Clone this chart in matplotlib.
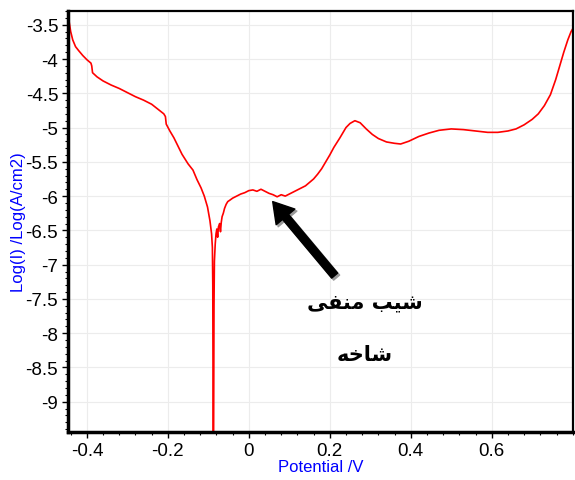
import matplotlib
matplotlib.use("Agg")
import matplotlib.pyplot as plt
from matplotlib.ticker import MultipleLocator
from matplotlib.transforms import offset_copy

# polarisation curve
potential = [-0.447, -0.444, -0.440, -0.435, -0.428, -0.420, -0.410, -0.400, -0.390, -0.388,
             -0.386, -0.375, -0.360, -0.340, -0.320, -0.300, -0.280, -0.260, -0.240, -0.225,
             -0.210, -0.206, -0.204, -0.195, -0.185, -0.175, -0.165, -0.150, -0.138, -0.128,
             -0.118, -0.110, -0.102, -0.096, -0.092, -0.090, -0.089, -0.088, -0.087, -0.086,
             -0.085, -0.083, -0.081, -0.079, -0.077, -0.075, -0.072, -0.070, -0.068, -0.066,
             -0.063, -0.060, -0.056, -0.052, -0.047, -0.040, -0.030, -0.020, -0.010, 0.000,
             0.010, 0.020, 0.030, 0.040, 0.050, 0.060, 0.070, 0.080, 0.090, 0.100,
             0.110, 0.120, 0.130, 0.140, 0.150, 0.160, 0.170, 0.180, 0.190, 0.200,
             0.210, 0.225, 0.240, 0.250, 0.262, 0.275, 0.290, 0.305, 0.320, 0.340,
             0.360, 0.375, 0.395, 0.420, 0.445, 0.470, 0.500, 0.530, 0.560, 0.590,
             0.615, 0.640, 0.660, 0.680, 0.700, 0.715, 0.730, 0.745, 0.758, 0.768,
             0.778, 0.788, 0.796, 0.800]
log_i = [-3.33, -3.45, -3.60, -3.72, -3.82, -3.88, -3.95, -4.01, -4.06, -4.10,
         -4.20, -4.26, -4.32, -4.38, -4.43, -4.49, -4.55, -4.60, -4.66, -4.73,
         -4.80, -4.84, -4.95, -5.05, -5.15, -5.27, -5.39, -5.53, -5.62, -5.76,
         -5.88, -6.00, -6.16, -6.36, -6.55, -6.75, -7.30, -9.60, -9.60, -7.60,
         -6.95, -6.70, -6.55, -6.48, -6.60, -6.45, -6.40, -6.52, -6.38, -6.30,
         -6.25, -6.18, -6.12, -6.08, -6.06, -6.03, -6.00, -5.97, -5.95, -5.92,
         -5.91, -5.93, -5.90, -5.93, -5.96, -5.98, -6.01, -5.98, -6.00, -5.97,
         -5.94, -5.91, -5.88, -5.85, -5.80, -5.75, -5.68, -5.60, -5.50, -5.40,
         -5.29, -5.15, -5.00, -4.94, -4.90, -4.93, -5.02, -5.10, -5.16, -5.21,
         -5.23, -5.24, -5.20, -5.13, -5.08, -5.04, -5.02, -5.03, -5.05, -5.07,
         -5.07, -5.05, -5.02, -4.96, -4.88, -4.80, -4.68, -4.52, -4.30, -4.10,
         -3.90, -3.72, -3.60, -3.56]

arrow_head = (0.059, -6.08)
arrow_tail = (0.212, -7.16)
label1 = "\uFEF0\uFED4\uFEE8\uFEE3 \uFE90\uFEF4\uFEB7"   # شیب منفی
label2 = "\uFEEA\uFEA7\uFE8E\uFEB7"                       # شاخه

plt.rcParams['font.family'] = ['Liberation Sans', 'DejaVu Sans']

fig = plt.figure(figsize=(5.75, 4.81), dpi=100)
ax = fig.add_axes([0.118, 0.1, 0.878, 0.875])

ax.plot(potential, log_i, color='red', lw=1.2)

ax.set_xlim(-0.447, 0.80)
ax.set_ylim(-9.44, -3.30)
ax.xaxis.set_minor_locator(MultipleLocator(0.04))
ax.yaxis.set_minor_locator(MultipleLocator(0.1))
ax.set_xticks([-0.4, -0.2, 0, 0.2, 0.4, 0.6])
ax.set_xticklabels(['-0.4', '-0.2', '0', '0.2', '0.4', '0.6'])
yt = [-3.5, -4, -4.5, -5, -5.5, -6, -6.5, -7, -7.5, -8, -8.5, -9]
ax.set_yticks(yt)
ax.set_yticklabels(['%g' % v for v in yt])
ax.tick_params(which='major', direction='out', length=4, width=1, labelsize=13.5, pad=3)
ax.tick_params(which='minor', direction='out', length=2.5, width=0.8)
ax.grid(True, which='major', color='#ececec', lw=0.8)

for s in ['top', 'right']:
    ax.spines[s].set_linewidth(1.6)
for s in ['left', 'bottom']:
    ax.spines[s].set_linewidth(2.5)

ax.set_xlabel('Potential /V', color='blue', fontsize=12, labelpad=0)
ax.set_ylabel('Log(I) /Log(A/cm2)', color='blue', fontsize=12, labelpad=0)

# arrow with a grey shadow
sty = dict(arrowstyle='simple,head_width=1.1,head_length=0.9,tail_width=0.35',
           mutation_scale=16, shrinkA=0, shrinkB=0)
shadow = offset_copy(ax.transData, fig=fig, x=2, y=-2, units='dots')
ax.annotate('', xy=arrow_head, xytext=arrow_tail, xycoords=shadow, textcoords=shadow,
            arrowprops=dict(color='#999999', **sty))
ax.annotate('', xy=arrow_head, xytext=arrow_tail,
            arrowprops=dict(color='black', **sty))

ax.text(0.286, -7.54, label1, fontsize=15, fontweight='bold', ha='center', va='center',
        family=['DejaVu Sans'])
ax.text(0.286, -8.30, label2, fontsize=15, fontweight='bold', ha='center', va='center',
        family=['DejaVu Sans'])

fig.savefig('out.png', dpi=100)
